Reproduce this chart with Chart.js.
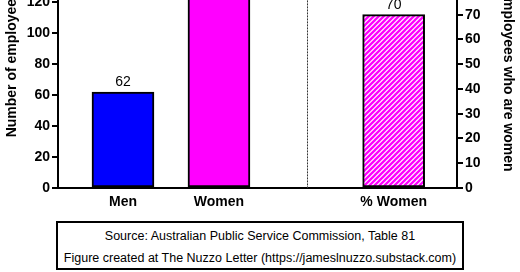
<!DOCTYPE html>
<html>
<head>
<meta charset="utf-8">
<script src="https://cdn.jsdelivr.net/npm/chart.js@4.4.1/dist/chart.umd.min.js"></script>
<style>
  html, body { margin: 0; padding: 0; background: #fff; }
  #wrap { position: relative; width: 520px; height: 272px; overflow: hidden; background: #fff; }
  #cv { position: absolute; left: 0; top: -70px; }
  #foot { position: absolute; left: 56px; top: 221px; width: 404px; height: 45px; border: 2px solid #000;
          font-family: "Liberation Sans", Arial, sans-serif; font-size: 12.5px; color: #000; text-align: center; }
  #foot div { line-height: 22px; }
  #foot div:first-child { margin-top: 2px; }
</style>
</head>
<body>
<div id="wrap">
  <canvas id="cv" width="520" height="285"></canvas>
  <div id="foot">
    <div>Source: Australian Public Service Commission, Table 81</div>
    <div>Figure created at The Nuzzo Letter (https://jameslnuzzo.substack.com)</div>
  </div>
</div>
<script>
// ---- data ----
const countCategories = ['Men', 'Women'];
const countValues = [62, 145];
const percentCategories = ['% Women'];
const percentValues = [70];
const leftTicks = [0, 20, 40, 60, 80, 100, 120, 140, 160];
const rightTicks = [0, 10, 20, 30, 40, 50, 60, 70, 80, 90, 100];
const leftTitle = 'Number of employees';
const rightTitle = '% of employees who are women';

// ---- layout (slot positions on the x axis) ----
const slotPos = { 'Men': 1, 'Women': 2, '% Women': 3.82 };
const dividerPos = 2.92;
const xMin = 0.323, xMax = 4.48;

function hatch() {
  const s = 5;
  const c = document.createElement('canvas');
  c.width = s; c.height = s;
  const g = c.getContext('2d');
  g.fillStyle = '#ffffff'; g.fillRect(0, 0, s, s);
  g.strokeStyle = '#ff00ff'; g.lineWidth = 2.3;
  g.beginPath();
  g.moveTo(-1, s + 1); g.lineTo(s + 1, -1);
  g.moveTo(-1, 1); g.lineTo(1, -1);
  g.moveTo(s - 1, s + 1); g.lineTo(s + 1, s - 1);
  g.stroke();
  return g.createPattern(c, 'repeat');
}

const FONT = '"Liberation Sans", Arial, sans-serif';

const dividerPlugin = {
  id: 'divider',
  beforeDatasetsDraw(chart) {
    const { ctx, chartArea, scales } = chart;
    const x = Math.round(scales.x.getPixelForValue(dividerPos)) + 0.5;
    ctx.save();
    ctx.strokeStyle = '#333';
    ctx.lineWidth = 1;
    ctx.setLineDash([2, 1]);
    ctx.beginPath();
    ctx.moveTo(x, chartArea.top);
    ctx.lineTo(x, chartArea.bottom);
    ctx.stroke();
    ctx.restore();
  }
};

const valueLabelPlugin = {
  id: 'valueLabels',
  afterDatasetsDraw(chart) {
    const { ctx } = chart;
    ctx.save();
    ctx.font = '14px ' + FONT;
    ctx.fillStyle = '#000';
    ctx.textAlign = 'center';
    ctx.textBaseline = 'bottom';
    chart.data.datasets.forEach((ds, i) => {
      chart.getDatasetMeta(i).data.forEach((bar, j) => {
        ctx.fillText(String(ds.data[j].y), bar.x, bar.y - 3);
      });
    });
    ctx.restore();
  }
};

new Chart(document.getElementById('cv'), {
  type: 'bar',
  data: {
    datasets: [
      {
        data: countCategories.map((c, i) => ({ x: slotPos[c], y: countValues[i] })),
        backgroundColor: ['#0000ff', '#ff00ff'],
        borderColor: '#000', borderWidth: 2, borderSkipped: false,
        barThickness: 62, yAxisID: 'y'
      },
      {
        data: percentCategories.map((c, i) => ({ x: slotPos[c], y: percentValues[i] })),
        backgroundColor: hatch(),
        borderColor: '#000', borderWidth: 2, borderSkipped: false,
        barThickness: 62, yAxisID: 'y2'
      }
    ]
  },
  options: {
    responsive: false,
    animation: false,
    events: [],
    layout: { padding: { top: 8, left: 0, right: 0, bottom: 0 } },
    plugins: { legend: { display: false }, tooltip: { enabled: false } },
    datasets: { bar: { grouped: false } },
    scales: {
      x: {
        type: 'linear', min: xMin, max: xMax, offset: false,
        afterBuildTicks: s => { s.ticks = Object.values(slotPos).map(v => ({ value: v })); },
        afterFit: s => { s.height = 27; },
        ticks: {
          callback: v => Object.keys(slotPos).find(k => slotPos[k] === v) || '',
          font: { family: FONT, size: 14, weight: 'bold' }, color: '#000', padding: 6,
          autoSkip: false, maxRotation: 0
        },
        grid: { display: false, drawTicks: false, offset: false },
        border: { color: '#000', width: 2 }
      },
      y: {
        position: 'left', min: 0, max: 160,
        afterBuildTicks: s => { s.ticks = leftTicks.map(v => ({ value: v })); },
        afterFit: s => { s.width = 58; },
        ticks: { font: { family: FONT, size: 14, weight: 'bold' }, color: '#000', padding: 2 },
        grid: { drawOnChartArea: false, color: '#000', tickColor: '#000', tickLength: 6, lineWidth: 2 },
        border: { color: '#000', width: 2 },
        title: { display: true, text: leftTitle, font: { family: FONT, size: 14, weight: 'bold' }, color: '#000', padding: { top: 4, bottom: 4 } }
      },
      y2: {
        position: 'right', min: 0, max: 100,
        afterBuildTicks: s => { s.ticks = rightTicks.map(v => ({ value: v })); },
        afterFit: s => { s.width = 63; },
        ticks: { font: { family: FONT, size: 14, weight: 'bold' }, color: '#000', padding: 2 },
        grid: { drawOnChartArea: false, color: '#000', tickColor: '#000', tickLength: 6, lineWidth: 2 },
        border: { color: '#000', width: 2 },
        title: { display: true, text: rightTitle, font: { family: FONT, size: 14, weight: 'bold' }, color: '#000', padding: { top: 4, bottom: 4 } }
      }
    }
  },
  plugins: [dividerPlugin, valueLabelPlugin]
});
</script>
</body>
</html>
